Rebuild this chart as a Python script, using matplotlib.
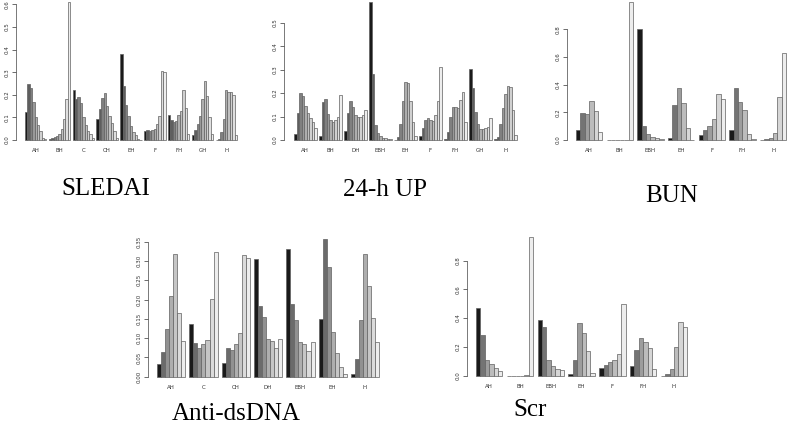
import numpy as np
import matplotlib
matplotlib.use('Agg')
import matplotlib.pyplot as plt

W, H = 788, 433

# ---- data ----
sledai_groups = ['AH', 'BH', 'C', 'CH', 'EH', 'F', 'FH', 'GH', 'H']
sledai_vals = [
    [0.125, 0.25, 0.23, 0.17, 0.10, 0.065, 0.04, 0.01, 0.003],
    [0.005, 0.007, 0.012, 0.018, 0.028, 0.048, 0.093, 0.18, 0.61],
    [0.22, 0.18, 0.19, 0.165, 0.10, 0.065, 0.04, 0.025, 0.008],
    [0.095, 0.135, 0.185, 0.21, 0.15, 0.105, 0.075, 0.04, 0.01],
    [0.38, 0.24, 0.155, 0.105, 0.06, 0.035, 0.02, 0.005, 0.002],
    [0.042, 0.046, 0.040, 0.044, 0.048, 0.07, 0.105, 0.305, 0.30],
    [0.11, 0.09, 0.08, 0.085, 0.11, 0.13, 0.22, 0.14, 0.025],
    [0.02, 0.045, 0.07, 0.105, 0.18, 0.26, 0.195, 0.10, 0.025],
    [0.002, 0.005, 0.035, 0.095, 0.222, 0.213, 0.212, 0.198, 0.022],
]

up_groups = ['AH', 'BH', 'DH', 'EBH', 'EH', 'F', 'FH', 'GH', 'H']
up_vals = [
    [0.024, 0.114, 0.20, 0.187, 0.143, 0.115, 0.092, 0.075, 0.05],
    [0.017, 0.162, 0.173, 0.11, 0.085, 0.077, 0.085, 0.097, 0.192],
    [0.037, 0.117, 0.165, 0.14, 0.105, 0.097, 0.097, 0.105, 0.13],
    [0.59, 0.28, 0.063, 0.03, 0.017, 0.01, 0.007, 0.005, 0.003],
    [0.001, 0.012, 0.067, 0.168, 0.248, 0.245, 0.165, 0.075, 0.016],
    [0.018, 0.05, 0.085, 0.092, 0.085, 0.08, 0.105, 0.165, 0.313],
    [0.003, 0.033, 0.097, 0.14, 0.14, 0.135, 0.17, 0.203, 0.075],
    [0.302, 0.22, 0.12, 0.068, 0.047, 0.047, 0.053, 0.055, 0.092],
    [0.003, 0.012, 0.067, 0.135, 0.195, 0.23, 0.225, 0.13, 0.02],
]

bun_groups = ['AH', 'BH', 'EBH', 'EH', 'F', 'FH', 'H']
bun_vals = [
    [0.07, 0.193, 0.186, 0.284, 0.21, 0.055],
    [0.0, 0.0, 0.0, 0.0, 0.003, 1.0],
    [0.80, 0.10, 0.045, 0.025, 0.015, 0.008],
    [0.015, 0.255, 0.375, 0.265, 0.085, 0.003],
    [0.035, 0.07, 0.10, 0.155, 0.335, 0.295],
    [0.07, 0.375, 0.275, 0.215, 0.045, 0.005],
    [0.0, 0.005, 0.013, 0.048, 0.31, 0.63],
]

dna_groups = ['AH', 'C', 'CH', 'DH', 'EBH', 'EH', 'H']
dna_vals = [
    [0.032, 0.065, 0.123, 0.208, 0.317, 0.164, 0.092],
    [0.137, 0.087, 0.074, 0.084, 0.095, 0.202, 0.322],
    [0.035, 0.074, 0.070, 0.085, 0.113, 0.314, 0.307],
    [0.304, 0.182, 0.154, 0.098, 0.092, 0.074, 0.098],
    [0.332, 0.188, 0.148, 0.091, 0.086, 0.066, 0.089],
    [0.149, 0.358, 0.284, 0.117, 0.061, 0.025, 0.007],
    [0.008, 0.045, 0.148, 0.318, 0.235, 0.153, 0.09],
]

scr_groups = ['AH', 'BH', 'EBH', 'EH', 'F', 'FH', 'H']
scr_vals = [
    [0.47, 0.28, 0.11, 0.08, 0.055, 0.035],
    [0.0, 0.0, 0.0, 0.0, 0.003, 0.96],
    [0.387, 0.336, 0.109, 0.067, 0.046, 0.039],
    [0.012, 0.109, 0.363, 0.296, 0.171, 0.019],
    [0.053, 0.074, 0.095, 0.109, 0.150, 0.495],
    [0.067, 0.178, 0.259, 0.236, 0.192, 0.046],
    [0.0, 0.009, 0.049, 0.197, 0.370, 0.336],
]


def grays(n, start=0.1, end=0.93, gamma=2.2):
    t = np.linspace(0, 1, n)
    lev = (start ** gamma + (end ** gamma - start ** gamma) * t) ** (1 / gamma)
    return [str(round(v, 3)) for v in lev]


fig = plt.figure(figsize=(W / 100, H / 100), dpi=100)


def panel(title, groups, vals, axis_px, bar_left, ppu, base, top, ppy, ticks, fmt, tx, ty):
    n = len(vals[0])
    G = len(groups)
    units = G * (n + 1) - 1
    right_px = bar_left + units * ppu + 4
    ax = fig.add_axes([axis_px / W, (H - base) / H, (right_px - axis_px) / W, (base - top) / H])
    ax.set_xlim(-(bar_left - axis_px) / ppu, units + 4 / ppu)
    ax.set_ylim(0, (base - top) / ppy)
    cols = grays(n)
    centers = []
    for g, v in enumerate(vals):
        x0 = g * (n + 1)
        ax.bar(x0 + np.arange(n), v, width=1, align='edge', color=cols,
               edgecolor='#606060', linewidth=0.5, clip_on=False)
        centers.append(x0 + n / 2)
    for s in ['top', 'right', 'bottom']:
        ax.spines[s].set_visible(False)
    ax.spines['left'].set_bounds(ticks[0], ticks[-1])
    ax.spines['left'].set_linewidth(0.5)
    ax.spines['left'].set_color('#444444')
    ax.set_yticks(ticks)
    ax.set_yticklabels([fmt % t for t in ticks], rotation=90, va='center')
    ax.tick_params(axis='y', length=3, width=0.5, pad=1.5, labelsize=4, colors='#333333')
    ax.set_xticks(centers)
    ax.set_xticklabels(groups)
    ax.tick_params(axis='x', length=0, pad=6, labelsize=4, colors='#333333')
    ax.patch.set_alpha(0)
    fig.text(tx / W, 1 - ty / H, title, family='Liberation Serif', fontsize=18,
             ha='center', va='center')
    return ax


panel('SLEDAI', sledai_groups, sledai_vals, 16, 25, 2.382, 140, 0, 226,
      [0, 0.1, 0.2, 0.3, 0.4, 0.5, 0.6], '%.1f', 106, 189)
panel('24-h UP', up_groups, up_vals, 284, 294, 2.5, 140, 0, 234.6,
      [0, 0.1, 0.2, 0.3, 0.4, 0.5], '%.1f', 385, 190)
panel('BUN', bun_groups, bun_vals, 567, 576, 4.38, 140, 0, 138.5,
      [0, 0.2, 0.4, 0.6, 0.8], '%.1f', 672, 196)
panel('Anti-dsDNA', dna_groups, dna_vals, 148, 157, 4.04, 376.7, 230, 386,
      [0, 0.05, 0.1, 0.15, 0.2, 0.25, 0.3, 0.35], '%.2f', 236, 414)
panel('Scr', scr_groups, scr_vals, 467, 476, 4.4, 375.7, 230, 144,
      [0, 0.2, 0.4, 0.6, 0.8], '%.1f', 530, 410)

fig.savefig('out.png', dpi=100)
